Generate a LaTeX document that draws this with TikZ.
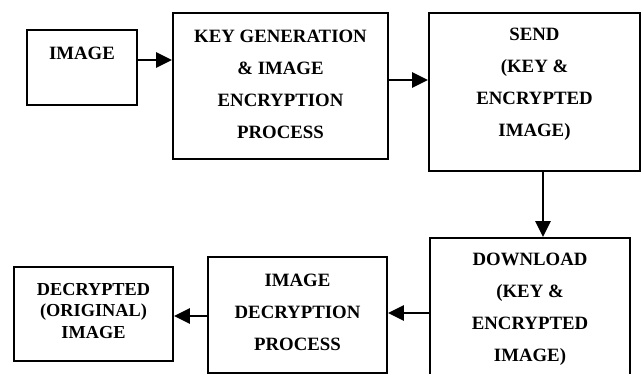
\documentclass[tikz,border=0pt]{standalone}
\usepackage{fontspec}
\setmainfont{Liberation Serif}
\usetikzlibrary{arrows.meta}
\begin{document}
\begin{tikzpicture}[x=1pt,y=1pt,
  box/.style={draw=black,line width=1.8pt,rectangle,inner sep=0pt},
  lbl/.style={align=center,inner sep=0pt,font=\fontsize{18.8}{32}\selectfont\bfseries},
  lbltight/.style={align=center,inner sep=0pt,font=\fontsize{18.3}{21.5}\selectfont\bfseries},
  arr/.style={line width=2.8pt,-{Triangle[length=16pt,width=15pt]}}]
\useasboundingbox (0,0) rectangle (643,374);
% boxes
\node[box,minimum width=110pt,minimum height=75pt] (img) at (82,306.5) {};
\node[box,minimum width=215pt,minimum height=146pt] (key) at (280.5,288) {};
\node[box,minimum width=211pt,minimum height=158pt] (send) at (534.5,282) {};
\node[box,minimum width=200pt,minimum height=152pt] (dl) at (530,60) {};
\node[box,minimum width=179pt,minimum height=116pt] (dec) at (297.5,59) {};
\node[box,minimum width=159pt,minimum height=94pt] (out) at (93.5,60) {};
% labels
\node[lbl] (timg) at (82,321) {IMAGE};
\node[lbl] (tkey) at (280.5,290) {KEY GENERATION\\\& IMAGE\\ENCRYPTION\\PROCESS};
\node[lbl] (tsend) at (534.5,289.5) {SEND\\(KEY \&\\ENCRYPTED\\IMAGE)};
\node[lbl] (tdl) at (530,64.5) {DOWNLOAD\\(KEY \&\\ENCRYPTED\\IMAGE)};
\node[lbl] (tdec) at (297.5,61.5) {IMAGE\\DECRYPTION\\PROCESS};
\node[lbltight] (tout) at (93.5,63) {DECRYPTED\\(ORIGINAL)\\IMAGE};
% connectors
\draw[arr] (img.east |- 0,314) -- (key.west |- 0,314);
\draw[arr] (key.east |- 0,294) -- (send.west |- 0,294);
\draw[arr] (send.south -| 543,0) -- (dl.north -| 543,0);
\draw[arr] (dl.west |- 0,61) -- (dec.east |- 0,61);
\draw[arr] (dec.west |- 0,58) -- (out.east |- 0,58);
\end{tikzpicture}
\end{document}
